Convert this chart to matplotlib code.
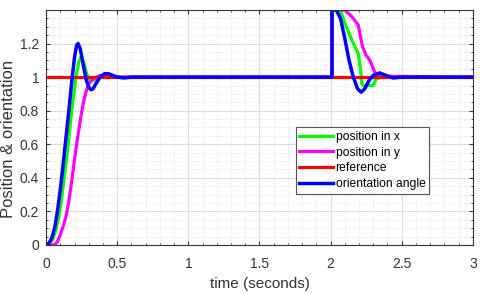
import matplotlib.pyplot as plt
from matplotlib.ticker import MultipleLocator

plt.rcParams['font.family'] = ['Liberation Sans', 'DejaVu Sans']

# position in x
t_x = [0, 0.03, 0.05, 0.07, 0.09, 0.11, 0.13, 0.15, 0.17, 0.19, 0.21, 0.23, 0.245, 0.265,
       0.285, 0.31, 0.33, 0.36, 0.4, 0.45, 0.5, 0.6, 2.0, 2.01, 2.01, 2.07, 2.1, 2.15, 2.195,
       2.21, 2.22, 2.23, 2.3, 2.32, 2.36, 3.0]
pos_x = [0, 0.01, 0.04, 0.09, 0.17, 0.28, 0.42, 0.56, 0.72, 0.87, 1.0, 1.09, 1.12, 1.09,
         1.02, 0.98, 0.98, 0.99, 1.01, 1.01, 1.0, 1.0, 1.0, 1.0, 1.4, 1.4, 1.32, 1.22, 1.14,
         1.05, 0.96, 0.95, 0.95, 0.99, 1.0, 1.0]

# position in y
t_y = [0, 0.06, 0.08, 0.1, 0.12, 0.14, 0.16, 0.18, 0.2, 0.22, 0.24, 0.26, 0.28, 0.3, 0.33,
       0.38, 0.42, 0.5, 0.6, 2.0, 2.01, 2.01, 2.1, 2.15, 2.195, 2.225, 2.25, 2.277, 2.31,
       2.35, 2.4, 3.0]
pos_y = [0, 0.0, 0.02, 0.06, 0.11, 0.17, 0.26, 0.38, 0.51, 0.63, 0.74, 0.84, 0.91, 0.96, 0.99,
         1.01, 1.01, 1.0, 1.0, 1.0, 1.0, 1.4, 1.4, 1.36, 1.31, 1.18, 1.13, 1.1, 1.03,
         1.0, 1.005, 1.0]

# reference
t_ref = [0, 3.0]
ref = [1, 1]

# orientation angle
t_th = [0, 0.02, 0.04, 0.06, 0.08, 0.1, 0.12, 0.14, 0.16, 0.18, 0.2, 0.215, 0.225,
        0.24, 0.26, 0.28, 0.3, 0.315, 0.33, 0.35, 0.38, 0.41, 0.44, 0.47, 0.5, 0.55, 0.6,
        0.7, 2.0, 2.01, 2.01, 2.04, 2.07, 2.1, 2.13, 2.16, 2.19, 2.215, 2.24, 2.27, 2.3,
        2.345, 2.39, 2.44, 2.5, 3.0]
theta = [0, 0.01, 0.04, 0.1, 0.2, 0.33, 0.48, 0.64, 0.8, 0.97, 1.12, 1.19, 1.2,
         1.17, 1.08, 0.99, 0.94, 0.925, 0.93, 0.96, 1.0, 1.02, 1.02, 1.01, 1.0, 0.995, 1.0,
         1.0, 1.0, 1.0, 1.4, 1.4, 1.35, 1.23, 1.1, 1.0, 0.93, 0.91, 0.93, 0.98, 1.01,
         1.025, 1.01, 0.995, 1.0, 1.0]

fig = plt.figure(figsize=(4.8, 2.94), dpi=100)
ax = fig.add_axes([0.096, 0.167, 0.889, 0.799])

ax.plot(t_x, pos_x, color='#00ff00', lw=2.3, label='position in x')
ax.plot(t_y, pos_y, color='#ff00ff', lw=2.3, label='position in y')
ax.plot(t_ref, ref, color='#ff0000', lw=2.3, label='reference')
ax.plot(t_th, theta, color='#0000ff', lw=2.5, label='orientation angle')

ax.set_xlim(0, 3)
ax.set_ylim(0, 1.4)
ax.xaxis.set_minor_locator(MultipleLocator(0.1))
ax.yaxis.set_minor_locator(MultipleLocator(0.05))
ax.set_xticks([0, 0.5, 1, 1.5, 2, 2.5, 3], ['0', '0.5', '1', '1.5', '2', '2.5', '3'])
ax.set_yticks([0, 0.2, 0.4, 0.6, 0.8, 1, 1.2], ['0', '0.2', '0.4', '0.6', '0.8', '1', '1.2'])

ax.grid(which='major', color='#dcdcdc', lw=0.8)
ax.grid(which='minor', color='#dcdcdc', lw=0.6, ls=':')
ax.tick_params(which='both', direction='in', top=True, right=True, colors='#333333',
               labelsize=10)
ax.tick_params(which='major', length=3)
ax.tick_params(which='minor', length=1.5)
ax.tick_params(axis='x', which='major', pad=9)
ax.tick_params(axis='y', which='major', pad=5)
for s in ax.spines.values():
    s.set_color('#333333')
    s.set_linewidth(0.8)

ax.set_xlabel('time (seconds)', fontsize=11, color='#333333', labelpad=4)
ax.set_ylabel('Position & orientation', fontsize=12, color='#333333', labelpad=4)
ax.yaxis.set_label_coords(-0.07, 0.45)

leg = ax.legend(loc='upper left', bbox_to_anchor=(0.585, 0.5), fontsize=8.7,
                fancybox=False, framealpha=1, edgecolor='#555555', handlelength=2.8,
                handletextpad=0.2, borderpad=0.3, labelspacing=0.3, borderaxespad=0)
leg.get_frame().set_linewidth(0.8)

fig.savefig('out.png', dpi=100)
